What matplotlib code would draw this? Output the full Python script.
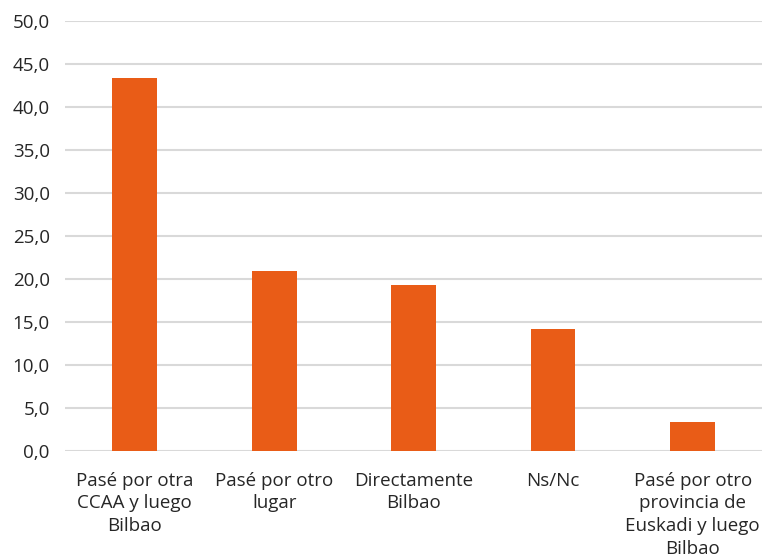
import matplotlib
matplotlib.use("Agg")
import matplotlib.pyplot as plt

categories = ["Pasé por otra\nCCAA y luego\nBilbao", "Pasé por otro\nlugar", "Directamente\nBilbao",
              "Ns/Nc", "Pasé por otro\nprovincia de\nEuskadi y luego\nBilbao"]
values = [43.4, 20.9, 19.3, 14.2, 3.4]
yticks = [0, 5, 10, 15, 20, 25, 30, 35, 40, 45, 50]

plt.rcParams['font.family'] = ['Open Sans', 'DejaVu Sans']

fig = plt.figure(figsize=(7.74, 5.58), dpi=100)
ax = fig.add_axes([0.084, 0.192, 0.901, 0.770])

x = range(len(categories))
ax.bar(x, values, width=0.32, color="#E95C17", zorder=3)
ax.set_xlim(-0.5, len(categories) - 0.5)
ax.set_ylim(0, 50)
ax.set_yticks(yticks)
ax.set_yticklabels([f"{v:.1f}".replace(".", ",") for v in yticks], fontsize=13.5, color="#262626")
ax.set_xticks(list(x))
ax.set_xticklabels(categories, fontsize=13.5, color="#262626", linespacing=1.33, va="top")
ax.tick_params(axis="both", length=0)
ax.tick_params(axis="x", pad=15)
ax.tick_params(axis="y", pad=11)
ax.grid(axis="y", color="#d9d9d9", linewidth=1.5, zorder=0)
for s in ax.spines.values():
    s.set_visible(False)

fig.savefig("out.png", dpi=100)
